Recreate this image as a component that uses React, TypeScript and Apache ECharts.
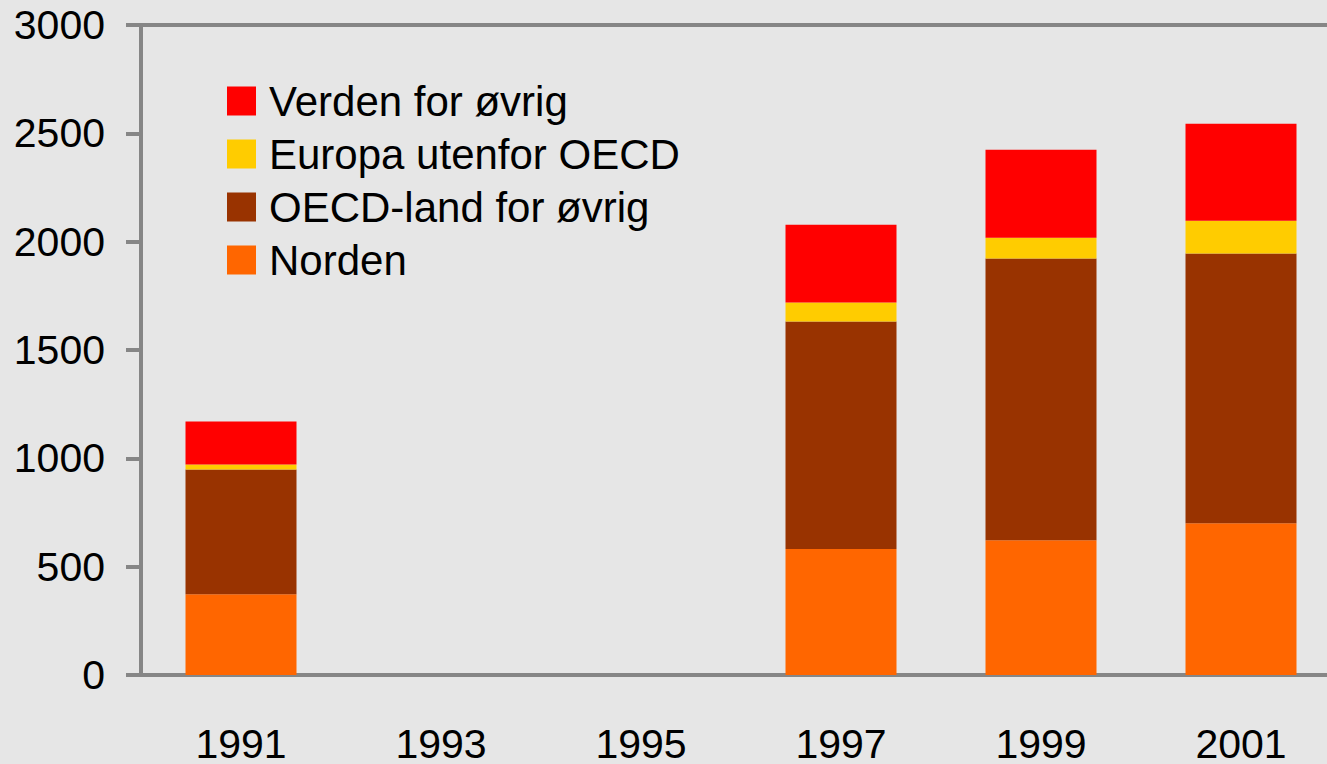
import React, { useEffect, useRef } from "react";
import * as echarts from "echarts";

const years = ["1991", "1993", "1995", "1997", "1999", "2001"];
const norden = [373, null, null, 581, 622, 700];
const oecdOvrig = [576, null, null, 1050, 1300, 1245];
const europaUtenfor = [23, null, null, 88, 96, 152];
const verdenOvrig = [198, null, null, 359, 406, 447];
const yTicks = { min: 0, max: 3000, interval: 500 };

const FONT = "'Liberation Sans', Arial, sans-serif";
const AXIS = "#868686";

export default function App() {
  const ref = useRef<HTMLDivElement>(null);
  useEffect(() => {
    if (!ref.current) return;
    const chart = echarts.init(ref.current, null, { renderer: "svg" });
    const bar = (name: string, data: (number | null)[], color: string) => ({
      name,
      type: "bar",
      stack: "total",
      data,
      barWidth: "55.5%",
      itemStyle: { color },
    });
    chart.setOption({
      animation: false,
      backgroundColor: "#e6e6e6",
      textStyle: { fontFamily: FONT },
      grid: { left: 141, top: 25, width: 1200, bottom: 88 },
      legend: {
        left: 227,
        top: 80,
        orient: "vertical",
        padding: 0,
        itemWidth: 29,
        itemHeight: 29,
        itemGap: 11,
        icon: "rect",
        data: ["Verden for øvrig", "Europa utenfor OECD", "OECD-land for øvrig", "Norden"],
        textStyle: { fontSize: 42, color: "#000", fontFamily: FONT, padding: [0, 0, 0, 8] },
      },
      xAxis: [
        {
          type: "category",
          data: years,
          axisLine: { lineStyle: { color: AXIS, width: 4 } },
          axisTick: { length: 16, lineStyle: { color: AXIS, width: 4 } },
          axisLabel: { fontSize: 41, color: "#000", margin: 48, fontFamily: FONT },
        },
        {
          type: "category",
          data: years,
          position: "top",
          axisLine: { lineStyle: { color: AXIS, width: 4 } },
          axisTick: { show: false },
          axisLabel: { show: false },
        },
      ],
      yAxis: {
        type: "value",
        min: yTicks.min,
        max: yTicks.max,
        interval: yTicks.interval,
        axisLine: { show: true, lineStyle: { color: AXIS, width: 4 } },
        axisTick: { show: true, length: 15, lineStyle: { color: AXIS, width: 4 } },
        splitLine: { show: false },
        axisLabel: {
          fontSize: 41,
          color: "#000",
          margin: 36,
          fontFamily: FONT,
          formatter: (v: number) => String(v),
        },
      },
      series: [
        bar("Norden", norden, "#ff6600"),
        bar("OECD-land for øvrig", oecdOvrig, "#993300"),
        bar("Europa utenfor OECD", europaUtenfor, "#ffcc00"),
        bar("Verden for øvrig", verdenOvrig, "#ff0000"),
      ],
    });
    return () => chart.dispose();
  }, []);
  return (
    <div
      style={{
        position: "fixed",
        left: 0,
        top: 0,
        width: 1327,
        height: 764,
        overflow: "hidden",
        background: "#e6e6e6",
      }}
    >
      <div ref={ref} style={{ width: 1360, height: 764 }} />
    </div>
  );
}
